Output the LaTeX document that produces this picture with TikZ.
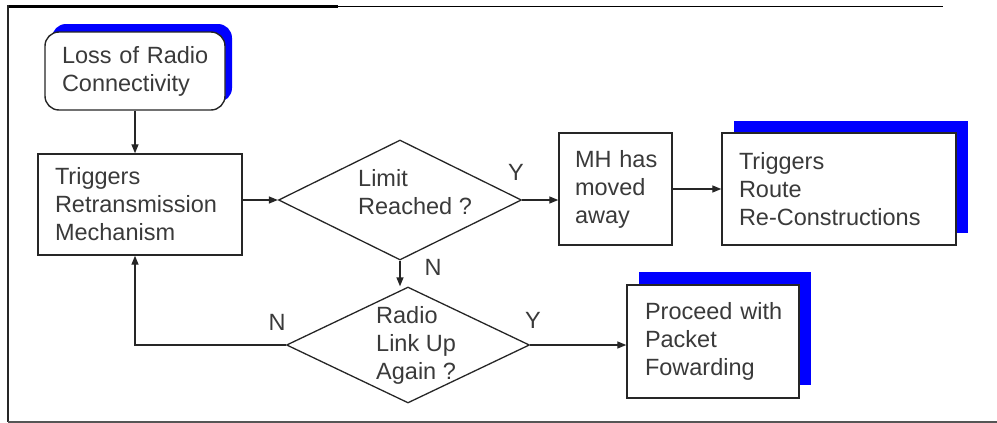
\documentclass[tikz,border=0pt]{standalone}
\usepackage{fontspec}
\setmainfont{Liberation Sans}
\usetikzlibrary{arrows.meta,shapes.geometric,shadows,calc}
\definecolor{linec}{HTML}{262626}
\definecolor{txtc}{HTML}{3A3A3A}
\definecolor{shadowblue}{HTML}{0000FF}
\definecolor{framegray}{HTML}{555555}
\begin{document}
\begin{tikzpicture}[x=1pt,y=-1pt,
  font=\fontsize{23.5}{28}\selectfont,
  box/.style={draw=linec, line width=1.4pt, fill=white, text=txtc, align=left, inner ysep=0pt},
  dia/.style={draw=linec, line width=1.3pt, diamond, fill=white, inner sep=0pt, minimum width=243pt},
  arr/.style={draw=linec, line width=1.3pt, -{Triangle[length=9pt,width=7pt]}},
  lbl/.style={text=txtc, inner sep=0pt}]
\useasboundingbox (0,0) rectangle (997,423);
% frame
\draw[line width=3pt, black] (8,6) -- (338,6);
\draw[line width=1.5pt, black] (338,6.5) -- (943,6.5);
\draw[line width=1.2pt, linec] (8,5) -- (8,422);
\draw[line width=2pt, framegray] (8,421.5) -- (997,421.5);
% nodes
\node[box, minimum height=78pt, text width=146pt, inner xsep=17pt, rounded corners=14pt,
      drop shadow={shadow xshift=7pt, shadow yshift=8pt, fill=shadowblue, opacity=1}]
      (loss) at (135,71) {\mbox{Loss of Radio}\\\mbox{Connectivity}};
\node[box, minimum height=101pt, text width=170pt, inner xsep=17pt]
      (trig) at (140,204.5) {\mbox{Triggers}\\\mbox{Retransmission}\\\mbox{Mechanism}};
\node[dia, minimum height=120pt] (d1) at (400,200) {};
\node[lbl, anchor=west, align=left] (d1t) at (358,192) {Limit\\Reached ?};
\node[dia, minimum height=116pt] (d2) at (408,345) {};
\node[lbl, anchor=west, align=left] (d2t) at (376,345) {Radio\\Link Up\\Again ?};
\node[box, minimum height=112pt, text width=81pt, inner xsep=16pt]
      (mh) at (615.5,189) {\mbox{MH has}\\\mbox{moved}\\\mbox{away}};
\node[box, minimum height=112pt, text width=200pt, inner xsep=17pt,
      drop shadow={shadow xshift=12pt, shadow yshift=12pt, fill=shadowblue, opacity=1}]
      (route) at (839,189) {\mbox{Triggers}\\\mbox{Route}\\\mbox{Re-Constructions}};
\node[box, minimum height=113pt, text width=136pt, inner xsep=18pt,
      drop shadow={shadow xshift=12pt, shadow yshift=13pt, fill=shadowblue, opacity=1}]
      (proc) at (713,341.5) {\mbox{Proceed with}\\\mbox{Packet}\\\mbox{Fowarding}};
% labels
\node[lbl] (y1) at (516,172) {Y};
\node[lbl] (n1) at (433,267) {N};
\node[lbl] (n2) at (277,322) {N};
\node[lbl] (y2) at (533,320) {Y};
% connectors
\draw[arr] (loss.south) -- (loss.south |- trig.north);
\draw[arr] (trig.east |- d1.west) -- (d1.west);
\draw[arr] (d1.east) -- (d1.east -| mh.west);
\draw[arr] (mh.east) -- (route.west);
\draw[arr] (d1.south) -- (d1.south |- d2.north);
\draw[arr] (d2.east) -- (d2.east -| proc.west);
\draw[arr] (d2.west) -| (loss.south |- trig.south);
\end{tikzpicture}
\end{document}
